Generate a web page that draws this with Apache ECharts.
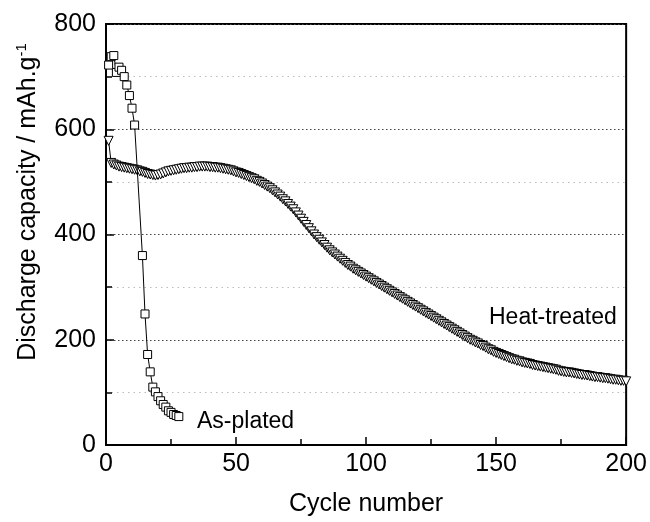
<!DOCTYPE html>
<html>
<head>
<meta charset="utf-8">
<script src="https://cdn.jsdelivr.net/npm/echarts@6/dist/echarts.min.js"></script>
<style>html,body{margin:0;padding:0;background:#fff}#c{width:650px;height:522px}</style>
</head>
<body>
<div id="c"></div>
<script>
// As-plated: cycle numbers and discharge capacities (mAh/g)
var asPlatedCycles = [1,2,3,4,5,6,7,8,9,10,11,14,15,16,17,18,19,20,21,22,23,24,25,26,27,28];
var asPlatedValues = [722,738,740,708,718,712,700,684,664,640,608,360,249,172,139,110,101,92,84,77,72,65,62,58,56,54];

// Heat-treated: cycles 1..200
var heatValues = [
578,536,533,531,529,528,527,526,525,524,
523,522,520,519,517,515,514,513,512,513,
514,516,518,520,521,522,523,524,525,526,
526,527,527,528,528,529,529,529,529,528,
528,527,527,526,525,524,523,522,520,518,
517,515,513,511,509,507,505,502,500,497,
494,491,488,484,480,476,472,467,463,458,
453,448,442,436,430,424,418,412,406,400,
395,390,385,380,375,370,366,362,358,354,
350,346,342,339,335,332,329,326,323,320,
317,314,311,308,305,302,299,296,293,290,
287,284,281,278,275,272,269,266,263,260,
257,254,251,248,245,242,239,236,233,230,
227,224,221,218,215,212,209,206,203,200,
198,195,193,190,188,185,182,180,177,175,
173,171,169,167,165,163,162,160,159,157,
156,155,154,152,151,150,149,148,147,146,
145,144,143,141,140,139,138,138,137,136,
135,134,133,133,132,131,130,129,129,128,
127,127,126,125,124,124,123,122,122,121
];

var xTicks = [0,50,100,150,200];
var yTicks = [0,200,400,600,800];

var heatData = heatValues.map(function(v,i){return [i+1, v];});
var asData = asPlatedCycles.map(function(c,i){return [c, asPlatedValues[i]];});

var FONT = 'Liberation Sans, Arial, sans-serif';
var chart = echarts.init(document.getElementById('c'), null, {renderer:'canvas'});
chart.setOption({
  animation:false,
  backgroundColor:'#fff',
  grid:{left:106,right:20,top:24,bottom:70,show:true,borderColor:'#000',borderWidth:2,backgroundColor:'transparent'},
  xAxis:{
    type:'value',min:xTicks[0],max:xTicks[xTicks.length-1],interval:50,
    name:'Cycle number',nameLocation:'middle',nameGap:47,
    nameTextStyle:{fontFamily:FONT,fontSize:25,color:'#000'},
    axisLine:{show:true,lineStyle:{color:'#000',width:2}},
    axisTick:{show:true,inside:true,length:8,lineStyle:{color:'#000',width:1.5}},
    minorTick:{show:true,splitNumber:2,length:6,lineStyle:{color:'#000',width:1.5}},
    axisLabel:{fontFamily:FONT,fontSize:25,color:'#000',margin:7},
    splitLine:{show:false}
  },
  yAxis:{
    type:'value',min:yTicks[0],max:yTicks[yTicks.length-1],interval:200,
    axisLine:{show:true,lineStyle:{color:'#000',width:2}},
    axisTick:{show:true,inside:true,length:8,lineStyle:{color:'#000',width:1.5}},
    minorTick:{show:true,splitNumber:2,length:6,lineStyle:{color:'#000',width:1.5}},
    axisLabel:{fontFamily:FONT,fontSize:25,color:'#000',margin:10},
    splitLine:{show:true,lineStyle:{color:'#444',width:1,type:[1.5,2.5]}},
    minorSplitLine:{show:true,lineStyle:{color:'#bbb',width:1,type:[1.5,4]}}
  },
  graphic:[
    {type:'text',x:28,y:202,rotation:Math.PI/2,
     style:{text:'{n|Discharge capacity / mAh.g}{s|-1}',textAlign:'center',textVerticalAlign:'middle',
       rich:{n:{fontFamily:FONT,fontSize:25,fill:'#000',color:'#000'},s:{fontFamily:FONT,fontSize:15,fill:'#000',color:'#000',verticalAlign:'top',padding:[0,0,12,0]}}}},
    {type:'text',x:197,y:422,style:{text:'As-plated',fontFamily:FONT,fontSize:23,fill:'#000',textVerticalAlign:'middle'}},
    {type:'text',x:489,y:318,style:{text:'Heat-treated',fontFamily:FONT,fontSize:23,fill:'#000',textVerticalAlign:'middle'}}
  ],
  series:[
    {type:'line',name:'Heat-treated',data:heatData,symbol:'triangle',symbolRotate:180,symbolSize:9,
     showAllSymbol:true,lineStyle:{color:'#000',width:1},
     itemStyle:{color:'#fff',borderColor:'#000',borderWidth:1},z:2},
    {type:'line',name:'As-plated',data:asData,symbol:'rect',symbolSize:8,showAllSymbol:true,
     lineStyle:{color:'#000',width:1},
     itemStyle:{color:'#fff',borderColor:'#000',borderWidth:1},z:3}
  ]
});
</script>
</body>
</html>
